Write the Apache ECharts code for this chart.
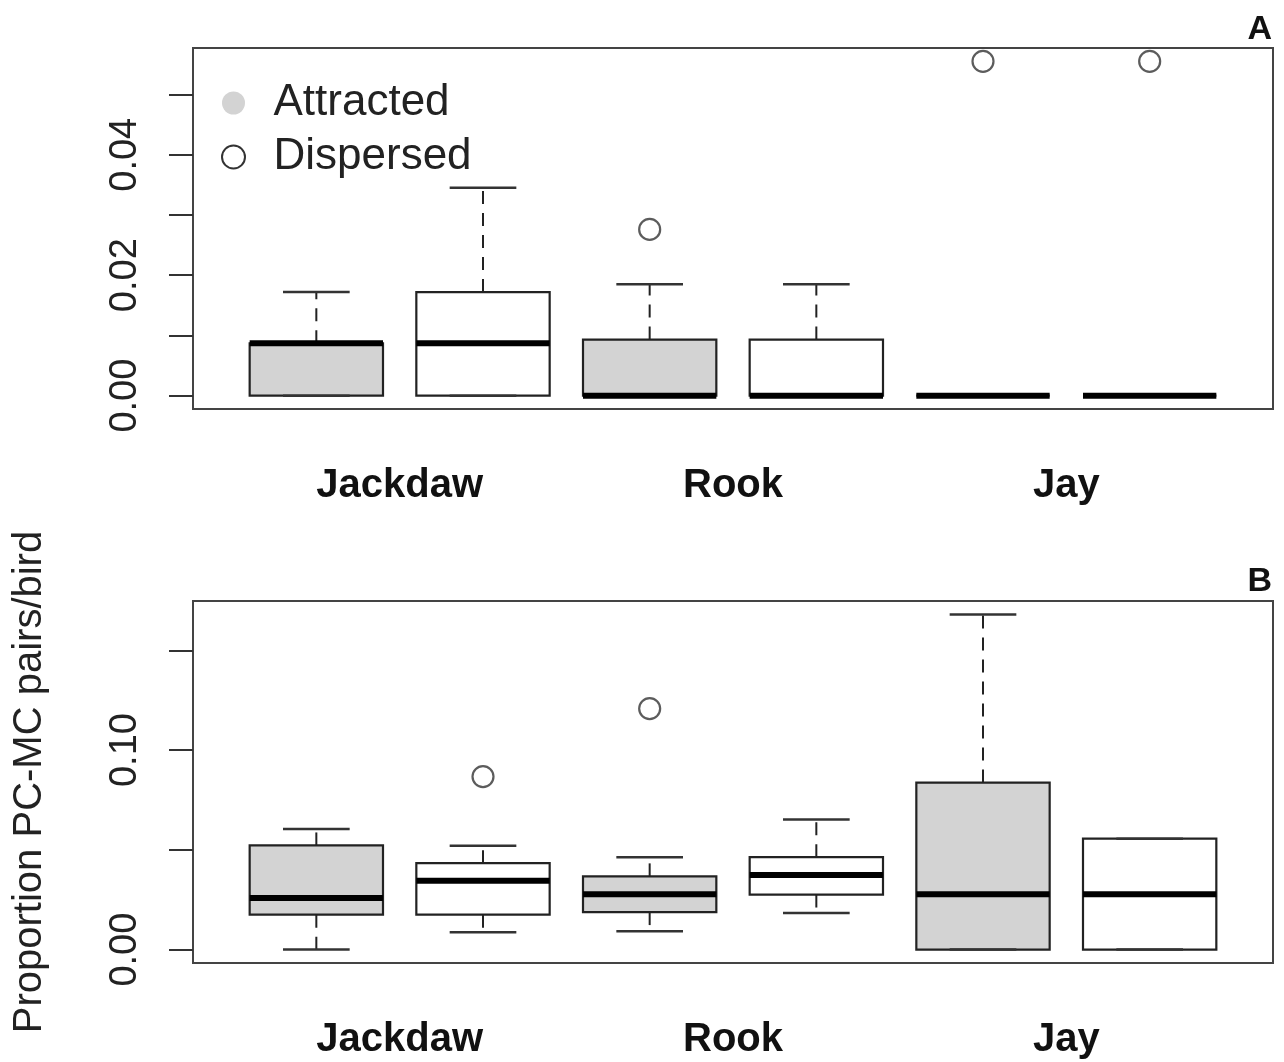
<!DOCTYPE html>
<html>
<head>
<meta charset="utf-8">
<script src="https://cdn.jsdelivr.net/npm/echarts@6/dist/echarts.min.js"></script>
<style>
  html, body { margin: 0; padding: 0; background: #fff; }
  #chart { width: 1284px; height: 1062px; }
</style>
</head>
<body>
<div id="chart"></div>
<script>
// ---------- DATA ----------
const categories = ['Jackdaw', 'Rook', 'Jay'];
const groupNames = ['Attracted', 'Dispersed'];

// Panel A: [low whisker, Q1, median, Q3, high whisker] per category
const aAttracted = [
  [0, 0, 0.0087, 0.0087, 0.0172],
  [0, 0, 0, 0.0093, 0.0185],
  [0, 0, 0, 0, 0]
];
const aDispersed = [
  [0, 0, 0.0087, 0.0172, 0.0345],
  [0, 0, 0, 0.0093, 0.0185],
  [0, 0, 0, 0, 0]
];
// outliers: [category index, value]
const aAttractedOut = [[1, 0.0276], [2, 0.0555]];
const aDispersedOut = [[2, 0.0555]];

// Panel B
const bAttracted = [
  [0, 0.0175, 0.0258, 0.0522, 0.0605],
  [0.0092, 0.0188, 0.0278, 0.0367, 0.0463],
  [0, 0, 0.0278, 0.0837, 0.1680]
];
const bDispersed = [
  [0.0087, 0.0175, 0.0345, 0.0433, 0.0520],
  [0.0184, 0.0276, 0.0374, 0.0463, 0.0652],
  [0, 0, 0.0278, 0.0556, 0.0556]
];
const bAttractedOut = [[1, 0.1208]];
const bDispersedOut = [[0, 0.0867]];

// tick marks and labels
const aTicks = [0, 0.01, 0.02, 0.03, 0.04, 0.05];
const aTickLabels = [0, 0.02, 0.04];
const bTicks = [0, 0.05, 0.10, 0.15];
const bTickLabels = [0, 0.10];
const categoryLabelPos = [1.5, 3.5, 5.5];
const yTitle = 'Proportion PC-MC pairs/bird';
const panelLabels = ['A', 'B'];

// ---------- helpers ----------
const nBoxes = categories.length * groupNames.length;
const xMin = 0.5 - 0.04 * nBoxes;
const xMax = nBoxes + 0.5 + 0.04 * nBoxes;

function boxData(stats, gi) {
  return stats.map((s, ci) => [2 * ci + 1 + gi].concat(s));
}
function outData(outs, gi) {
  return outs.map(o => [2 * o[0] + 1 + gi, o[1]]);
}
function yRange(arrs) {
  let lo = Infinity, hi = -Infinity;
  arrs.forEach(a => a.forEach(r => r.forEach(v => { lo = Math.min(lo, v); hi = Math.max(hi, v); })));
  const pad = 0.04 * (hi - lo);
  return [lo - pad, hi + pad];
}
const aOutVals = aAttractedOut.concat(aDispersedOut).map(o => [o[1]]);
const bOutVals = bAttractedOut.concat(bDispersedOut).map(o => [o[1]]);
const aRange = yRange([aAttracted, aDispersed, aOutVals]);
const bRange = yRange([bAttracted, bDispersed, bOutVals]);

const INK = '#222';
const GRAY = '#d3d3d3';
const FONT = '"Liberation Sans", Arial, Helvetica, sans-serif';

function renderBox(fill) {
  return function (params, api) {
    const x = api.value(0);
    const low = api.value(1), q1 = api.value(2), med = api.value(3), q3 = api.value(4), high = api.value(5);
    const cx = api.coord([x, 0])[0];
    const halfW = api.size([0.8, 0])[0] / 2;
    const capHalf = api.size([0.4, 0])[0] / 2;
    const yLow = api.coord([x, low])[1];
    const yQ1 = api.coord([x, q1])[1];
    const yMed = api.coord([x, med])[1];
    const yQ3 = api.coord([x, q3])[1];
    const yHigh = api.coord([x, high])[1];
    const children = [];
    children.push({
      type: 'rect',
      shape: { x: cx - halfW, y: yQ3, width: halfW * 2, height: yQ1 - yQ3 },
      style: { fill: fill, stroke: INK, lineWidth: 2.2 }
    });
    if (high > q3) {
      children.push({ type: 'line', shape: { x1: cx, y1: yQ3, x2: cx, y2: yHigh },
        style: { stroke: INK, lineWidth: 2, lineDash: [13, 9] } });
    }
    if (low < q1) {
      children.push({ type: 'line', shape: { x1: cx, y1: yQ1, x2: cx, y2: yLow },
        style: { stroke: INK, lineWidth: 2, lineDash: [13, 9] } });
    }
    children.push({ type: 'line', shape: { x1: cx - capHalf, y1: yHigh, x2: cx + capHalf, y2: yHigh },
      style: { stroke: '#333', lineWidth: 2.5 } });
    children.push({ type: 'line', shape: { x1: cx - capHalf, y1: yLow, x2: cx + capHalf, y2: yLow },
      style: { stroke: '#333', lineWidth: 2.5 } });
    children.push({ type: 'line', shape: { x1: cx - halfW, y1: yMed, x2: cx + halfW, y2: yMed },
      style: { stroke: '#000', lineWidth: 6 } });
    return { type: 'group', children: children };
  };
}

function boxSeries(name, stats, gi, idx, fill) {
  return {
    type: 'custom', name: name, xAxisIndex: idx, yAxisIndex: idx,
    renderItem: renderBox(fill),
    itemStyle: { color: fill, borderColor: INK },
    encode: { x: 0, y: [1, 2, 3, 4, 5] },
    data: boxData(stats, gi),
    silent: true, z: 2
  };
}
function outSeries(name, outs, gi, idx) {
  return {
    type: 'scatter', name: name, xAxisIndex: idx, yAxisIndex: idx,
    symbol: 'circle', symbolSize: 21,
    itemStyle: { color: 'rgba(255,255,255,0)', borderColor: '#333', borderWidth: 2.2 },
    data: outData(outs, gi), silent: true, z: 3
  };
}

const grids = [
  { left: 193, right: 11, top: 48, height: 361 },
  { left: 193, right: 11, top: 601, height: 362 }
].map(g => Object.assign(g, { show: true, borderColor: '#444', borderWidth: 2, backgroundColor: 'transparent', containLabel: false }));

function xAxisFor(idx) {
  return {
    type: 'value', gridIndex: idx, min: xMin, max: xMax,
    splitLine: { show: false }, axisLine: { show: false }, axisTick: { show: false },
    axisLabel: {
      customValues: categoryLabelPos,
      formatter: v => categories[categoryLabelPos.indexOf(v)] || '',
      fontFamily: FONT, fontSize: 40, fontWeight: 'bold', color: '#111', margin: 57
    }
  };
}
function yAxisFor(idx, range, ticks, labels, extra) {
  return Object.assign({
    type: 'value', gridIndex: idx, min: range[0], max: range[1],
    splitLine: { show: false }, axisLine: { show: false },
    axisTick: { show: true, customValues: ticks, length: 24, lineStyle: { color: '#333', width: 2 } },
    axisLabel: {
      customValues: labels, rotate: 90, margin: 48,
      formatter: v => v.toFixed(2),
      fontFamily: FONT, fontSize: 38, color: '#222'
    }
  }, extra || {});
}

const option = {
  backgroundColor: '#fff',
  animation: false,
  title: [
    { text: panelLabels[0], right: 7, top: 8, textStyle: { fontFamily: FONT, fontSize: 34, fontWeight: 'bold', color: '#111' } },
    { text: panelLabels[1], right: 7, top: 560, textStyle: { fontFamily: FONT, fontSize: 34, fontWeight: 'bold', color: '#111' } }
  ],
  legend: {
    orient: 'vertical', left: 216, top: 76, itemGap: 10,
    itemWidth: 70, itemHeight: 23, symbolKeepAspect: true,
    selectedMode: false,
    textStyle: { fontFamily: FONT, fontSize: 44, color: '#222' },
    data: [
      { name: groupNames[0], icon: 'circle', itemStyle: { color: GRAY, borderWidth: 0 } },
      { name: groupNames[1], icon: 'circle', itemStyle: { color: '#fff', borderColor: '#333', borderWidth: 2 } }
    ]
  },
  grid: grids,
  xAxis: [xAxisFor(0), xAxisFor(1)],
  yAxis: [
    yAxisFor(0, aRange, aTicks, aTickLabels),
    yAxisFor(1, bRange, bTicks, bTickLabels, {
      name: yTitle, nameLocation: 'middle', nameGap: 143, nameRotate: 90,
      nameTextStyle: { fontFamily: FONT, fontSize: 40, color: '#222' }
    })
  ],
  series: [
    boxSeries(groupNames[0], aAttracted, 0, 0, GRAY),
    boxSeries(groupNames[1], aDispersed, 1, 0, '#fff'),
    boxSeries(groupNames[0], bAttracted, 0, 1, GRAY),
    boxSeries(groupNames[1], bDispersed, 1, 1, '#fff'),
    outSeries('Attracted outliers', aAttractedOut, 0, 0),
    outSeries('Dispersed outliers', aDispersedOut, 1, 0),
    outSeries('Attracted outliers', bAttractedOut, 0, 1),
    outSeries('Dispersed outliers', bDispersedOut, 1, 1)
  ]
};

const chart = echarts.init(document.getElementById('chart'), null, { renderer: 'canvas' });
chart.setOption(option);
</script>
</body>
</html>
